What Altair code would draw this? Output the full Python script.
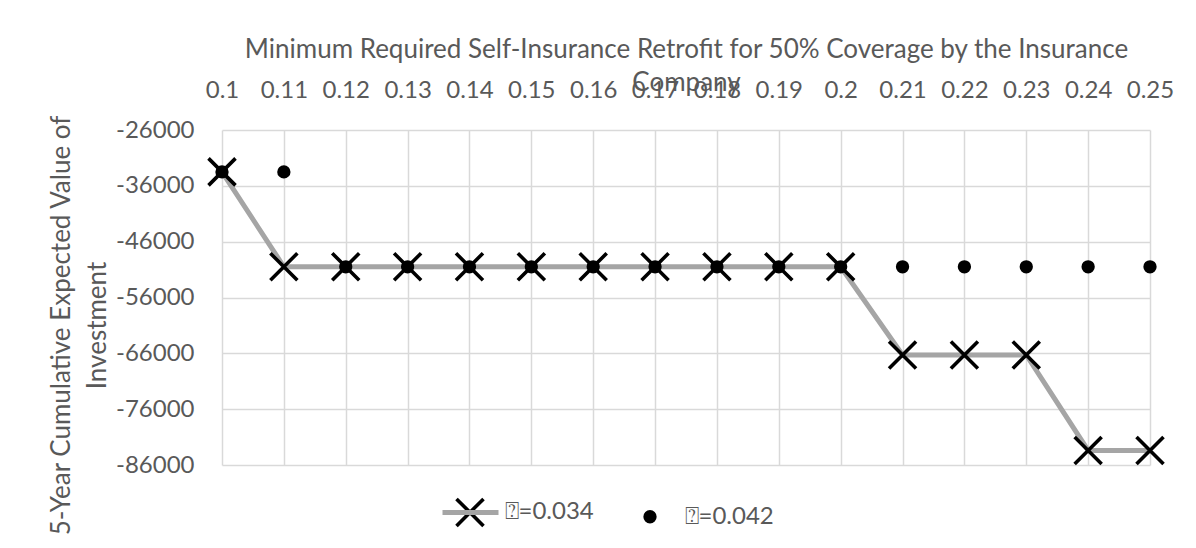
import altair as alt
import pandas as pd

# ---- data ----
x_vals = [0.1, 0.11, 0.12, 0.13, 0.14, 0.15, 0.16, 0.17, 0.18, 0.19, 0.2, 0.21, 0.22, 0.23, 0.24, 0.25]
s1_vals = [-33500, -50500, -50500, -50500, -50500, -50500, -50500, -50500, -50500, -50500, -50500,
           -66300, -66300, -66300, -83400, -83400]
s2_vals = [-33500, -33500, -50500, -50500, -50500, -50500, -50500, -50500, -50500, -50500, -50500,
           -50500, -50500, -50500, -50500, -50500]
series_names = ["\u2370=0.034", "\u2370=0.042"]
y_ticks = [-86000, -76000, -66000, -56000, -46000, -36000, -26000]
x_title = ["Minimum Required Self-Insurance Retrofit for 50% Coverage by the Insurance", "Company"]
y_title = ["5-Year Cumulative Expected Value of", "Investment"]

rows = []
for xv, a, b in zip(x_vals, s1_vals, s2_vals):
    rows.append({"x": xv, "y": a, "series": series_names[0]})
    rows.append({"x": xv, "y": b, "series": series_names[1]})
df = pd.DataFrame(rows)

FONT = "Lato"
TXT = "#595959"
GRID = "#d9d9d9"
FS = 24
TFS = 26

X_PATH = "M-1,-1L1,1M-1,1L1,-1"
DOT_PATH = "M-0.36,0A0.36,0.36,0,1,1,0.36,0A0.36,0.36,0,1,1,-0.36,0Z"

x_enc = alt.X(
    "x:Q",
    scale=alt.Scale(domain=[0.1, 0.25], nice=False, zero=False),
    axis=alt.Axis(
        orient="top", values=x_vals, labelExpr="'' + datum.value",
        ticks=False, domain=False, grid=True, gridColor=GRID, gridWidth=1.5,
        labelFont=FONT, labelFontSize=FS, labelColor=TXT, labelPadding=28,
        labelFlush=False, labelOverlap=False, labelBound=False,
        title=x_title, titleFont=FONT, titleFontSize=TFS, titleFontWeight="normal",
        titleColor=TXT, titleBaseline="alphabetic", titleY=-73, titleLineHeight=33,
    ),
)
y_enc = alt.Y(
    "y:Q",
    scale=alt.Scale(domain=[-86000, -26000], nice=False, zero=False),
    axis=alt.Axis(
        values=y_ticks, labelExpr="'' + datum.value",
        ticks=False, domain=False, grid=True, gridColor=GRID, gridWidth=1.5,
        labelFont=FONT, labelFontSize=FS, labelColor=TXT, labelPadding=28,
        labelFlush=False, labelOverlap=False, labelBound=False,
        title=y_title, titleFont=FONT, titleFontSize=TFS, titleFontWeight="normal",
        titleColor=TXT, titleBaseline="alphabetic", titleAngle=270, titleAlign="center",
        titleX=-153, titleY=195, titleLineHeight=36,
    ),
)

line = alt.Chart(df).transform_filter(
    alt.datum.series == series_names[0]
).mark_line(strokeWidth=5, strokeCap="butt").encode(
    x=x_enc, y=y_enc,
    color=alt.Color(
        "series:N",
        scale=alt.Scale(domain=[series_names[0]], range=["#a5a5a5"]),
        legend=alt.Legend(
            orient="none", legendX=218, legendY=352, title=None, padding=0,
            symbolType="stroke", symbolSize=3136, symbolStrokeWidth=5,
            labelExpr="''", labelFontSize=1,
        ),
    ),
)

pt_legend = alt.Legend(
    orient="none", legendX=232.5, legendY=366.5, title=None, padding=0,
    direction="horizontal", symbolSize=729, symbolFillColor="black",
    symbolStrokeWidth=3.6, symbolOpacity=1,
    labelOffset=19, columnPadding=40,
    labelFont=FONT, labelFontSize=FS, labelColor=TXT,
)

points = alt.Chart(df).mark_point(
    filled=False, fill="black", strokeWidth=3.6, size=729, opacity=1, fillOpacity=1
).encode(
    x=x_enc, y=y_enc,
    shape=alt.Shape(
        "series:N",
        scale=alt.Scale(domain=series_names, range=[X_PATH, DOT_PATH]),
        legend=pt_legend,
    ),
    stroke=alt.Stroke(
        "series:N",
        scale=alt.Scale(domain=series_names, range=["black", "black"]),
        legend=pt_legend,
    ),
)

chart = alt.layer(line, points).properties(
    width=928, height=335,
    padding={"left": 214, "top": 122, "right": 38, "bottom": 75},
    autosize=alt.AutoSizeParams(type="none"),
).resolve_legend(color="independent").configure_view(stroke=None)

chart.save("out.html", embed_options={"renderer": "svg", "actions": False})
